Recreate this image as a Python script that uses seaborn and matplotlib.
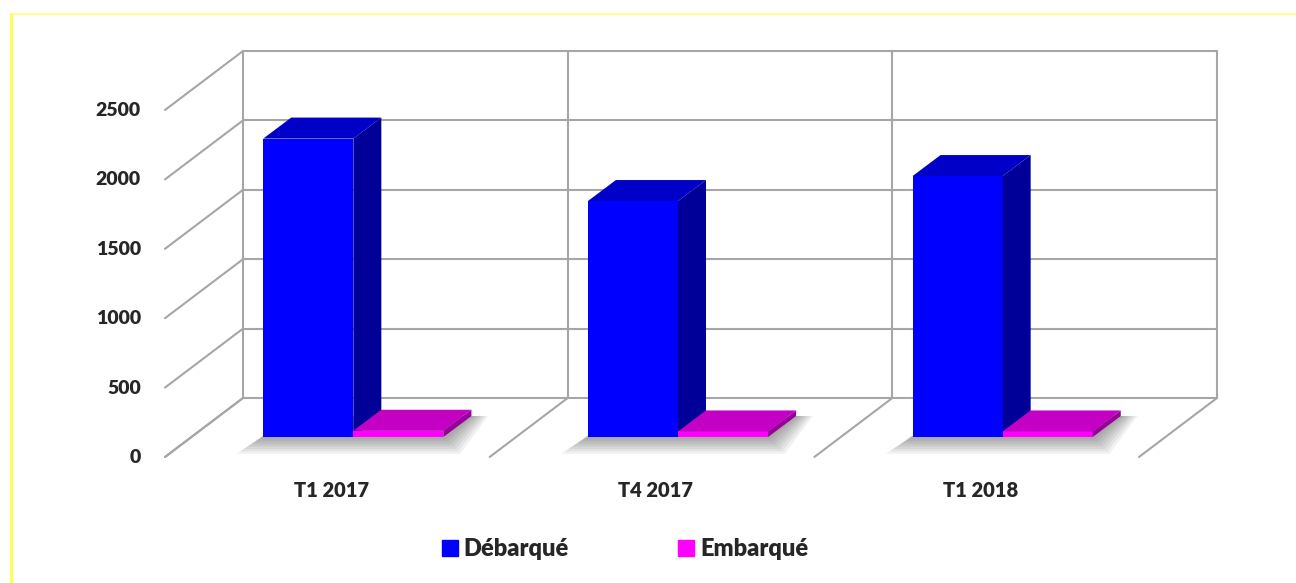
import seaborn as sns
import matplotlib.pyplot as plt
import matplotlib.transforms as mtransforms
from matplotlib.patches import Polygon
from matplotlib.lines import Line2D
import pandas as pd

periods = ["T1 2017", "T4 2017", "T1 2018"]
series = ["Débarqué", "Embarqué"]
debarque = [2150, 1700, 1880]
embarque = [45, 40, 40]
yticks = [0, 500, 1000, 1500, 2000, 2500]

front_colors = ["#0000FF", "#FF00FF"]
top_colors = ["#0000C8", "#C400C4"]
side_colors = ["#000099", "#990099"]
grid_color = "#a6a6a6"

df = pd.DataFrame({
    "periode": periods * 2,
    "valeur": debarque + embarque,
    "serie": [series[0]] * len(periods) + [series[1]] * len(periods),
})

sns.set_style("white")
plt.rcParams["font.family"] = ["Lato", "DejaVu Sans"]
FW = "heavy"

W, H = 1296, 583
fig = plt.figure(figsize=(W / 100, H / 100), dpi=100)
# axes = plane of the bars' front faces
ax = fig.add_axes([191 / W, (H - 437) / H, 974 / W, 347 / H])

sns.barplot(data=df, x="periode", y="valeur", hue="serie", palette=front_colors,
            width=0.555, saturation=1, legend=False, ax=ax, zorder=3)
ax.set_xlim(-0.5, len(periods) - 0.5)
ax.set_ylim(0, 2500)
for s in ax.spines.values():
    s.set_visible(False)
ax.set_xlabel("")
ax.set_ylabel("")

# pixel -> data conversion for the depth offsets
px_x = 974 / len(periods)
px_y = 347 / 2500


def depth(dx, dy):
    return dx / px_x, dy / px_y


bx, by = depth(52, 39)    # back wall
fx, fy = depth(-26, -20)  # front edge
dx, dy = depth(28, 21)    # bar depth

gkw = dict(color=grid_color, lw=1.5, clip_on=False, zorder=1)
x_left, x_right = -0.5, len(periods) - 0.5
for y in yticks:
    ax.plot([x_left + bx, x_right + bx], [y + by, y + by], **gkw)
    ax.plot([x_left + fx, x_left + bx], [y + fy, y + by], **gkw)
for x in [x_left + i for i in range(len(periods) + 1)]:
    ax.plot([x + bx, x + bx], [by, yticks[-1] + by], **gkw)
    ax.plot([x + fx, x + bx], [fy, by], **gkw)

# 3d faces + soft shadow
n = len(periods)
bars = list(ax.patches)
for i, p in enumerate(bars):
    s = i // n
    x0, w, h = p.get_x(), p.get_width(), p.get_height()
    p.set_zorder(3 + 2 * s)
    p.set_edgecolor("none")
    if s == 0:
        w2 = bars[i + n].get_width()
        for k in range(7):
            m = (k + 1) * 2.4
            ax.add_patch(Polygon([(x0 - 1.6 * m / px_x, -m / px_y), (x0 + w + w2 + m / px_x, -m / px_y),
                                  (x0 + w + w2 + dx + m / px_x, dy), (x0 + dx, dy)],
                                 closed=True, facecolor="#000000", alpha=0.055,
                                 edgecolor="none", zorder=2, clip_on=False))
    ax.add_patch(Polygon([(x0, h), (x0 + w, h), (x0 + w + dx, h + dy), (x0 + dx, h + dy)],
                         closed=True, facecolor=top_colors[s], edgecolor="none",
                         zorder=3.5 + 2 * s, clip_on=False))
    ax.add_patch(Polygon([(x0 + w, 0), (x0 + w + dx, dy), (x0 + w + dx, h + dy), (x0 + w, h)],
                         closed=True, facecolor=side_colors[s], edgecolor="none",
                         zorder=3.5 + 2 * s, clip_on=False))

# tick labels sit on the front edge
ax.set_yticks(yticks)
ax.set_yticklabels([str(v) for v in yticks], fontsize=14, fontweight=FW)
ax.tick_params(axis="y", length=0, pad=36)
ax.tick_params(axis="x", length=0, pad=32, labelsize=14.5)
for lab in ax.get_xticklabels():
    lab.set_fontweight(FW)
    lab.set_transform(lab.get_transform() + mtransforms.ScaledTranslation(-0.22, 0, fig.dpi_scale_trans))
for lab in ax.get_yticklabels():
    lab.set_transform(lab.get_transform() + mtransforms.ScaledTranslation(0, -0.19, fig.dpi_scale_trans))

handles = [Line2D([], [], marker="s", linestyle="", markersize=11, color=c) for c in front_colors]
fig.legend(handles, series, loc="center", bbox_to_anchor=(0.482, 0.058), ncol=2,
           frameon=False, prop={"weight": FW, "size": 17},
           handlelength=0.7, handletextpad=0.25, columnspacing=4.6)

# thin yellow frame (top and left)
fig.add_artist(Line2D([10.5 / W, 1], [1 - 14 / H, 1 - 14 / H], transform=fig.transFigure,
                      color="#FFFF99", lw=1.5))
fig.add_artist(Line2D([10.5 / W, 10.5 / W], [0, 1 - 14 / H], transform=fig.transFigure,
                      color="#FFFF44", lw=2))

fig.savefig("out.png", dpi=100)
